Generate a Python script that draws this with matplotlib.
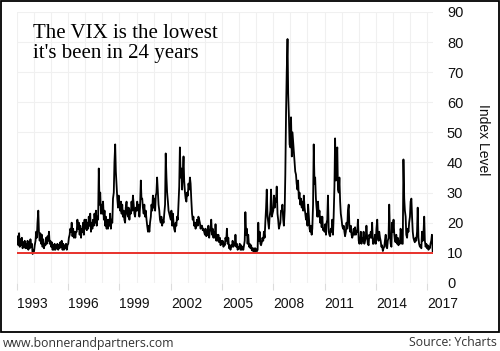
import pandas as pd
import matplotlib
matplotlib.use('Agg')
import matplotlib.pyplot as plt
import matplotlib.dates as mdates
from matplotlib.patches import Rectangle

# VIX readings, two per month (1st and 15th)
vix_by_year = {
    1993: [13, 15.5, 12.5, 16.5, 12, 14.5, 12.5, 15, 11.5, 13.5, 12, 14, 11.5, 13, 11.5, 14, 11, 13.5, 11.5, 14.5, 12, 13, 9.6, 11],
    1994: [10.5, 12.5, 14, 17, 15, 20, 24, 17, 14, 16.5, 13, 16, 12, 14.5, 11.5, 13, 12.5, 15, 13, 15.5, 14, 17, 13, 14],
    1995: [12, 13.5, 11, 12.5, 11, 13, 11, 12, 11.5, 13, 11, 12.5, 11.5, 13.5, 12, 14, 11, 13, 11, 12.5, 11.5, 13, 11, 12.5],
    1996: [13, 15, 16, 18, 17, 20, 15.5, 18, 15, 17, 15, 17, 17, 21, 18, 20, 16, 19, 15, 18, 17, 20, 16, 21],
    1997: [18, 21, 17.5, 20, 18, 22, 19, 23, 17, 20, 18, 21, 19, 23, 20, 24, 19, 22, 21, 38, 26, 30, 23, 26],
    1998: [23, 27, 21, 24, 19, 22, 18, 21, 18, 21, 19, 23, 18, 21, 20, 28, 30, 40, 46, 37, 32, 28, 25, 29],
    1999: [26, 24, 27, 23, 26, 22, 24, 21, 20, 25, 27, 23, 22, 25, 21, 24, 23, 27, 24, 29, 26, 23, 22, 25],
    2000: [24, 27, 24, 26, 22, 25, 34, 28, 28, 25, 23, 26, 22, 24, 21, 19, 17, 19, 17, 20, 22, 26, 24, 29],
    2001: [25, 28, 24, 29, 30, 35, 30, 26, 24, 21, 20, 22, 19, 21, 20, 23, 26, 43, 35, 30, 27, 24, 23, 22],
    2002: [21, 24, 19, 23, 20, 18, 17, 20, 19, 22, 21, 26, 32, 45, 35, 38, 31, 36, 42, 34, 30, 28, 27, 30],
    2003: [29, 33, 31, 35, 33, 28, 23, 21, 22, 19, 20, 18, 19, 21, 19, 22, 21, 20, 18, 19, 19, 17.5, 18, 17],
    2004: [16, 18, 15.5, 17, 16, 19, 15, 17, 18, 21, 16, 18, 15, 17, 15, 19.5, 14, 16, 14, 16, 13.5, 15, 12.5, 14],
    2005: [13, 14, 12, 13, 12.5, 15, 14, 18, 13, 15, 11.5, 12.5, 11, 12.5, 12, 14, 12, 13, 12.5, 16, 12, 13, 11, 12],
    2006: [11.5, 13, 11, 12.5, 11, 12, 11, 12.5, 14, 23.5, 16, 18, 13, 16, 12, 13, 11.5, 12.5, 10.8, 11.5, 10.5, 11.5, 10.3, 11.5],
    2007: [11, 10.5, 11, 20, 14, 17, 13, 12.5, 13.5, 15, 14, 17, 15, 20, 25, 31, 22, 20, 18, 22, 24, 31, 22, 23],
    2008: [24, 29, 25, 28, 27, 32, 23, 21, 18, 19, 20, 24, 24, 26, 21, 19, 24, 36, 57, 70, 81, 63, 55, 46],
    2009: [45, 55, 42, 50, 47, 44, 40, 37, 36, 33, 31, 34, 28, 30, 26, 28, 25, 27, 24, 29, 25, 23, 21, 23],
    2010: [19, 26, 22, 18, 17, 19, 16, 18, 26, 46, 33, 35, 28, 25, 22, 27, 22, 24, 20, 22, 18.5, 22, 17.5, 18],
    2011: [17, 19.5, 16, 20, 21, 29, 17, 16, 15.5, 18, 17, 21, 16, 22, 32, 48, 34, 42, 45, 31, 30, 35, 27, 23],
    2012: [21, 19, 18, 19, 17, 15.5, 17, 20, 18, 24, 26, 19, 17, 19, 16, 15, 16, 18, 16, 18.5, 16, 17, 17, 21],
    2013: [14, 13, 14, 17, 13, 15, 14, 17, 13, 14, 15, 19, 15, 13, 12.5, 16, 15, 17, 15, 20, 13, 13, 14, 16],
    2014: [13, 18, 21, 15, 14, 17, 15, 14, 12, 12.5, 10.6, 11.5, 12, 14, 16, 12, 11.5, 14, 15, 26, 16, 13, 12, 20],
    2015: [17, 21, 16, 14, 13.5, 16, 13, 15, 12.5, 14, 13, 18, 16, 13, 13, 41, 28, 24, 22, 16, 15, 18, 17, 20],
    2016: [22, 27, 28, 22, 17, 15, 14, 13.5, 15, 14, 17, 25, 15, 13, 12, 12.5, 11.5, 17, 14, 16, 22, 14, 12, 13],
    2017: [11.5, 12.5, 11, 12, 11.5, 13, 14, 16, 10.5],
}
low_level = 10
tick_years = [1993, 1996, 1999, 2002, 2005, 2008, 2011, 2014, 2017]
y_ticks = [0, 10, 20, 30, 40, 50, 60, 70, 80, 90]

values = [v for yr in sorted(vix_by_year) for v in vix_by_year[yr]]
dates = pd.date_range('1993-01-01', periods=len(values), freq='SMS')

fig = plt.figure(figsize=(5.0, 3.51), dpi=100)
ax = fig.add_axes([0.034, 0.194, 0.832, 0.772])

ax.plot(dates, values, color='black', lw=1.3)
ax.axhline(low_level, color='#e8312b', lw=1.4)

ax.set_xlim(pd.Timestamp('1993-01-01'), pd.Timestamp('2017-05-08'))
ax.set_ylim(0, 90)

ax.set_xticks([pd.Timestamp(f'{y}-01-01') for y in tick_years])
ax.set_xticklabels([str(y) for y in tick_years], ha='left')
ax.xaxis.set_minor_locator(mdates.YearLocator())
ax.set_yticks(y_ticks)
ax.yaxis.tick_right()

ax.tick_params(axis='x', which='major', length=5, color='#dcdcdc', pad=5,
               labelsize=10, labelcolor='#111111')
ax.tick_params(axis='x', which='minor', length=0)
ax.tick_params(axis='y', length=0, pad=10, labelsize=10.5, labelcolor='#111111')
for lab in ax.get_xticklabels() + ax.get_yticklabels():
    lab.set_fontfamily('Liberation Sans')

ax.grid(True, which='both', color='#f0f0f0', lw=0.8)
ax.set_axisbelow(True)
for s in ax.spines.values():
    s.set_visible(False)

fig.text(483 / 500, 1 - 140 / 351, 'Index Level', rotation=270, ha='center', va='center',
         fontsize=10, family='Liberation Sans', color='#111111')

fig.text(33 / 500, 1 - 24 / 351, "The VIX is the lowest\nit's been in 24 years",
         ha='left', va='top', fontsize=15, family='Liberation Serif', linespacing=1.1)

fig.patches.append(Rectangle((0.002, 0.054), 0.995, 0.943, transform=fig.transFigure,
                             fill=False, edgecolor='black', lw=1.3))
fig.text(3 / 500, 1 - 343 / 351, 'www.bonnerandpartners.com', ha='left', va='center',
         fontsize=8.8, family='Open Sans', color='#333333')
fig.text(497 / 500, 1 - 343 / 351, 'Source: Ycharts', ha='right', va='center',
         fontsize=8.8, family='Open Sans', color='#333333')

fig.savefig('out.png', dpi=100)
